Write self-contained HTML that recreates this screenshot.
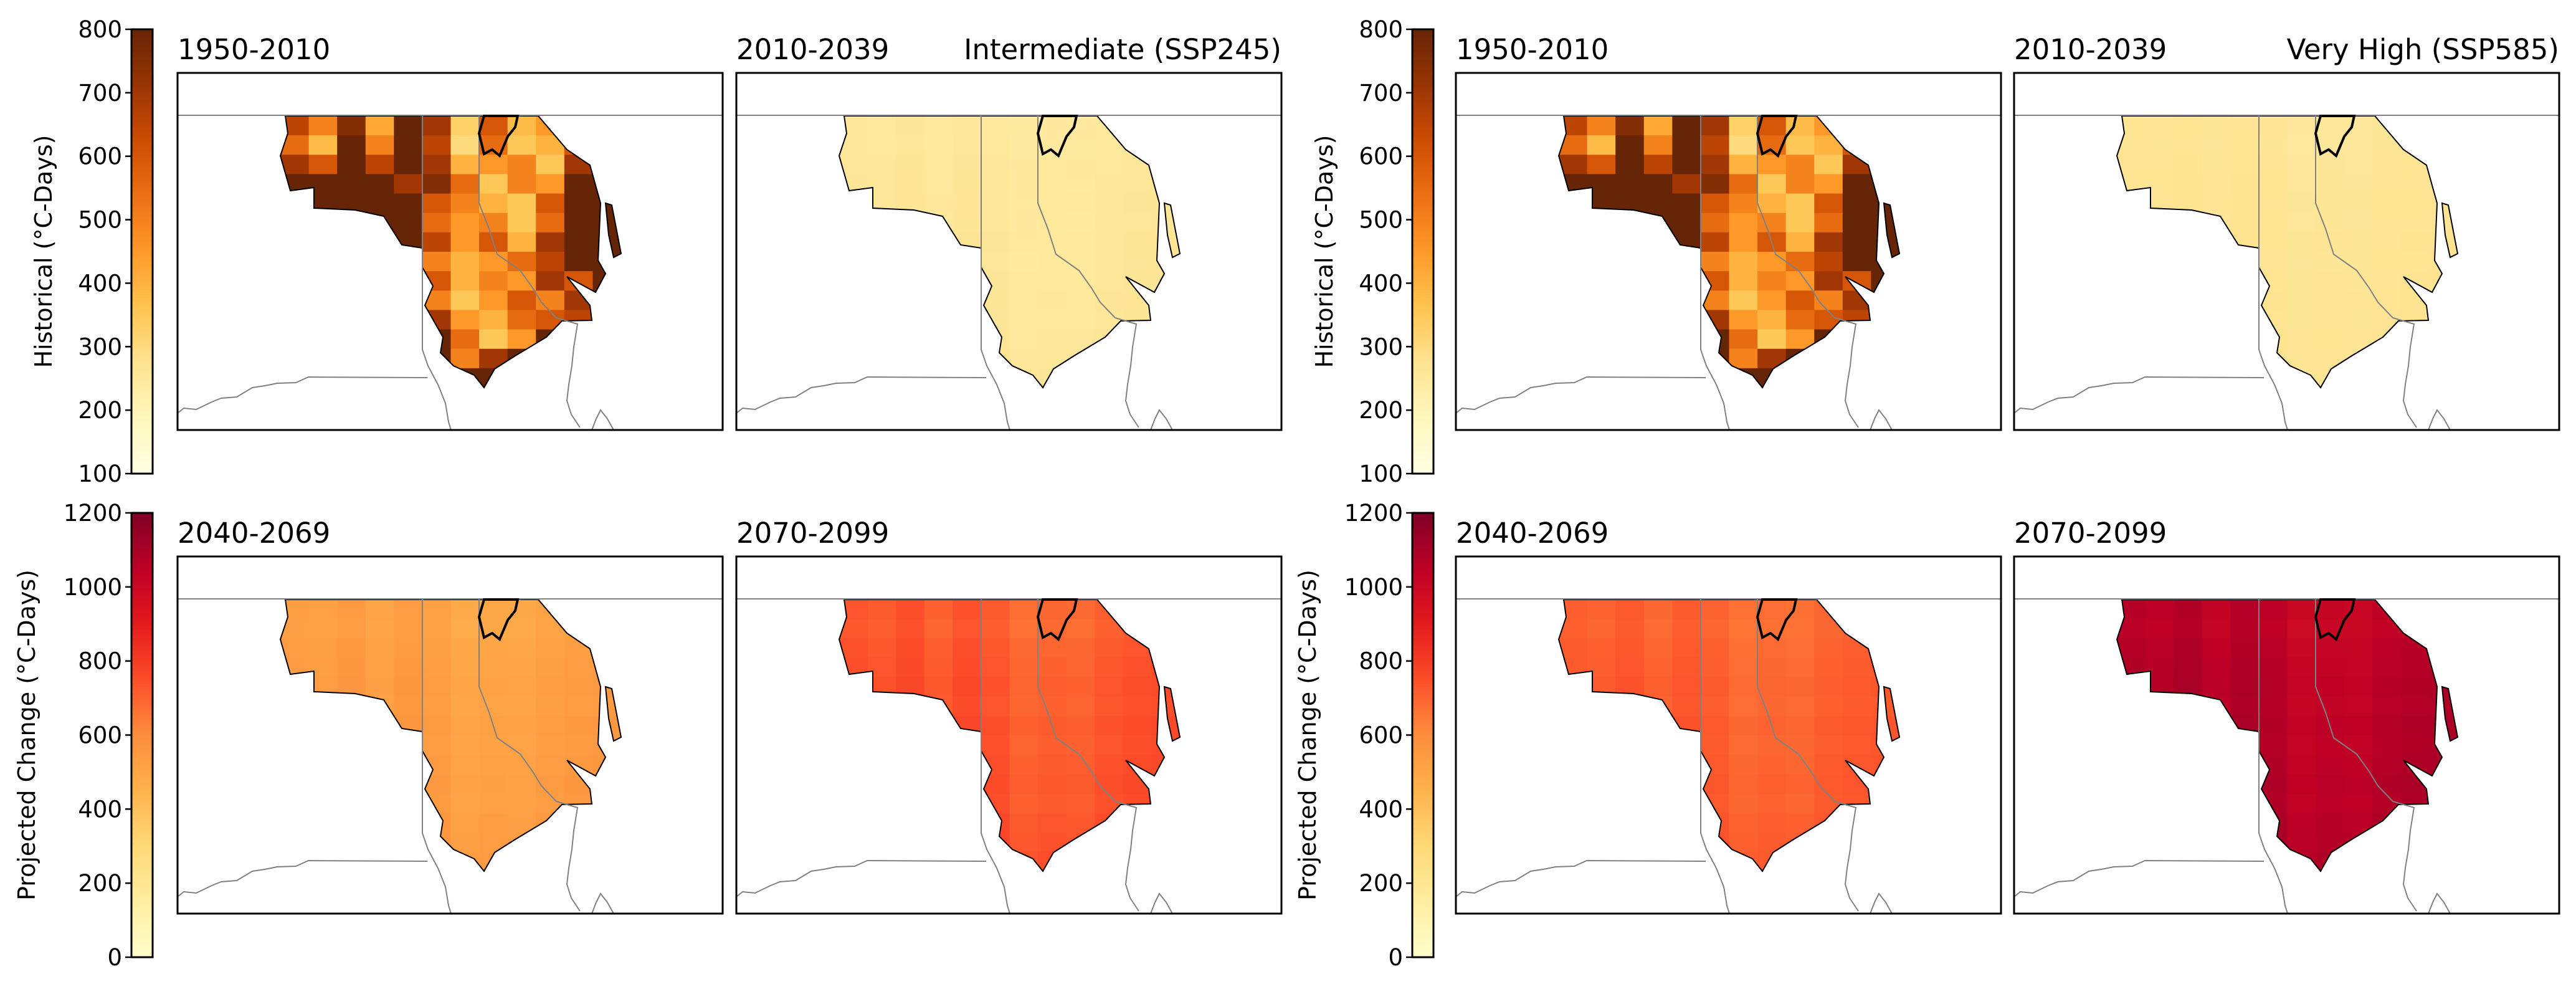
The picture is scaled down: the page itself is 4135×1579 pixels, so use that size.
<!DOCTYPE html>
<html><head><meta charset="utf-8"><style>
html,body{margin:0;padding:0;background:#fff;}
svg{display:block;font-family:"DejaVu Sans","Liberation Sans",sans-serif;}
</style></head><body>
<svg id="fig" width="4135" height="1579" viewBox="0 0 4135 1579" xmlns="http://www.w3.org/2000/svg">
<defs>
<clipPath id="mapclip"><path id="mapshape" d="M173,69 L579,69 L625,123 L662,148 L679,209 L675,301 L687,322 L671,352 L625,327 L662,373 L665,397 L617,398 L592,424 L542,454 L509,475 L492,505 L476,485 L443,470 L422,449 L426,424 L397,373 L410,342 L393,312 L393,281 L360,276 L331,230 L285,220 L219,217 L219,184 L181,189 L165,133 L177,97 Z M687,209 L697,212 L712,290 L700,296 L692,260 Z"/></clipPath>
<linearGradient id="gYlOrBr" x1="0" y1="1" x2="0" y2="0">
<stop offset="0" stop-color="#ffffe5"/><stop offset="0.125" stop-color="#fff7bc"/><stop offset="0.25" stop-color="#fee391"/><stop offset="0.375" stop-color="#fec44f"/><stop offset="0.5" stop-color="#fe9929"/><stop offset="0.625" stop-color="#ec7014"/><stop offset="0.75" stop-color="#cc4c02"/><stop offset="0.875" stop-color="#993404"/><stop offset="1" stop-color="#662506"/>
</linearGradient>
<linearGradient id="gYlOrRd" x1="0" y1="1" x2="0" y2="0">
<stop offset="0" stop-color="#ffffcc"/><stop offset="0.125" stop-color="#ffeda0"/><stop offset="0.25" stop-color="#fed976"/><stop offset="0.375" stop-color="#feb24c"/><stop offset="0.5" stop-color="#fd8d3c"/><stop offset="0.625" stop-color="#fc4e2a"/><stop offset="0.75" stop-color="#e31a1c"/><stop offset="0.875" stop-color="#bd0026"/><stop offset="1" stop-color="#800026"/>
</linearGradient>
</defs>
</svg>
<script>
// ---- data ----
const histTicks = [100,200,300,400,500,600,700,800];
const projTicks = [0,200,400,600,800,1000,1200];
// coarse historical growing degree day grid (north->south rows, west->east cols)
const histGrid = [
[650,500,750,420,800,700,330,600,380,450,700,800],
[550,380,800,500,800,650,300,550,350,400,600,800],
[700,600,800,650,800,700,400,450,500,350,700,800],
[800,800,800,800,700,750,550,350,500,450,800,800],
[800,800,800,800,800,600,500,400,350,600,800,800],
[800,800,800,800,800,550,450,500,350,550,800,800],
[800,800,800,800,800,650,450,600,400,700,800,800],
[800,800,800,800,800,500,400,450,550,650,800,800],
[800,800,800,800,750,600,400,500,450,700,600,800],
[800,800,800,800,800,500,350,450,600,500,700,800],
[800,800,800,800,800,700,450,400,550,600,650,800],
[800,800,800,800,800,800,550,350,450,800,800,800],
[800,800,800,800,800,800,500,700,800,800,800,800],
[800,800,800,800,800,800,800,800,800,800,800,800]];
const colAnom = [20,10,30,0,25,10,-20,-10,-15,5,15,20];
const rowAnom = [-10,-15,-5,0,5,0,10,5,10,15,10,20,25,30];
const panelTitles = ["2010-2039","2040-2069","2070-2099"];
const panelMeans245 = [255,520,720];
const panelMeans585 = [265,700,1050];
const animScale = [0.3,1.2,1.5];

// ---- layout ----
const NS="http://www.w3.org/2000/svg";
const fig=document.getElementById('fig');
const PW=875, PH=573;
const colX=[285,1182,2337,3233];
const rowY=[117,893];
const cbX=[211,2267], cbW=34;
const cbY=[[47,760],[823,1536]];
const mapX0=165,mapX1=712,mapY0=69,mapY1=505;
const YlOrBr=["#ffffe5","#fff7bc","#fee391","#fec44f","#fe9929","#ec7014","#cc4c02","#993404","#662506"];
const YlOrRd=["#ffffcc","#ffeda0","#fed976","#feb24c","#fd8d3c","#fc4e2a","#e31a1c","#bd0026","#800026"];
function hex(h){return [parseInt(h.substr(1,2),16),parseInt(h.substr(3,2),16),parseInt(h.substr(5,2),16)];}
function cmap(stops,t){t=Math.max(0,Math.min(1,t));const n=stops.length-1;const i=Math.min(n-1,Math.floor(t*n));const f=t*n-i;
 const a=hex(stops[i]),b=hex(stops[i+1]);return 'rgb('+a.map((v,k)=>Math.round(v+(b[k]-v)*f)).join(',')+')';}
function el(tag,attrs,parent){const e=document.createElementNS(NS,tag);for(const k in attrs)e.setAttribute(k,attrs[k]);(parent||fig).appendChild(e);return e;}

function colorbar(gi,ri,grad,ticks,label,labOff){
 const g=el('g',{});
 
 
 const x=cbX[gi],y0=cbY[ri][0],y1=cbY[ri][1];
 el('rect',{x:x,y:y0,width:cbW,height:y1-y0,fill:'url(#'+grad+')',stroke:'#000','stroke-width':3},g);
 const lo=ticks[0],hi=ticks[ticks.length-1];
 ticks.forEach(v=>{const y=y1-(v-lo)/(hi-lo)*(y1-y0);
  el('line',{x1:x-10,x2:x,y1:y,y2:y,stroke:'#000','stroke-width':2.5},g);
  const t=el('text',{x:x-15,y:y+13,'text-anchor':'end','font-size':37,fill:'#000'},g);t.textContent=v;
  
  });
 const cx=x-labOff,cy=(y0+y1)/2;
 const t=el('text',{x:cx,y:cy,'text-anchor':'middle','font-size':38,transform:'rotate(-90 '+cx+' '+cy+')'},g);
 t.textContent=label;
 
 
}

function panel(px,py,valFn,stops,lo,hi,title,rtitle,name){
 const g=el('g',{transform:'translate('+px+','+py+')'});
 
 
 const cells=el('g',{'clip-path':'url(#mapclip)'},g);
 const R=histGrid.length,C=histGrid[0].length;
 const cw=(mapX1-mapX0)/C,ch=(mapY1-mapY0)/R;
 for(let r=0;r<R;r++)for(let c=0;c<C;c++){
  const v=valFn(r,c);
  const rc=el('rect',{x:mapX0+c*cw,y:mapY0+r*ch,width:cw+0.8,height:ch+0.8,fill:cmap(stops,(v-lo)/(hi-lo))},cells);
  
  
 }
 el('use',{href:'#mapshape',fill:'none',stroke:'#000','stroke-width':2},g);
 const gray={fill:'none',stroke:'#808080','stroke-width':2};
 el('path',Object.assign({d:'M0,68 L875,68'},gray),g);
 el('path',Object.assign({d:'M393,69 L393,444 L402,470 L418,500 L430,530 L435,560 L439,573'},gray),g);
 el('path',Object.assign({d:'M0,546 L10,538 L30,540 L55,528 L70,522 L95,520 L120,505 L140,502 L160,498 L190,497 L210,488 L401,489'},gray),g);
 el('path',Object.assign({d:'M484,69 L484,209 L500,250 L513,291 L550,317 L570,345 L584,368 L608,393 L642,403 L636,440 L633,470 L628,500 L625,526 L632,548 L646,569'},gray),g);
 el('path',Object.assign({d:'M665,573 L672,555 L679,541 L690,555 L700,573'},gray),g);
 el('path',{d:'M492,69 L546,69 L542,87 L530,102 L517,133 L505,123 L492,130 L484,97 Z',fill:'none',stroke:'#000','stroke-width':4},g);
 el('rect',{x:0,y:0,width:PW,height:PH,fill:'none',stroke:'#000','stroke-width':3},g);
 const t=el('text',{x:0,y:-22,'font-size':45},g);t.textContent=title;
 
 
 if(rtitle){const t2=el('text',{x:PW,y:-22,'font-size':45,'text-anchor':'end'},g);t2.textContent=rtitle;
  
  }
}

const histFn=(r,c)=>histGrid[r][c];
[0,1].forEach(gi=>{
 const means=gi===0?panelMeans245:panelMeans585;
 const scen=gi===0?"Intermediate (SSP245)":"Very High (SSP585)";
 colorbar(gi,0,'gYlOrBr',histTicks,'Historical (°C-Days)',128);
 colorbar(gi,1,'gYlOrRd',projTicks,'Projected Change (°C-Days)',155);
 panel(colX[gi*2],rowY[0],histFn,YlOrBr,100,800,"1950-2010",null,'historical-map-'+gi);
 panel(colX[gi*2+1],rowY[0],(r,c)=>means[0]+colAnom[c]*animScale[0]+rowAnom[r]*animScale[0],YlOrBr,100,800,panelTitles[0],scen,'near-term-map-'+gi);
 panel(colX[gi*2],rowY[1],(r,c)=>means[1]+colAnom[c]*animScale[1]+rowAnom[r]*animScale[1],YlOrRd,0,1200,panelTitles[1],null,'mid-century-map-'+gi);
 panel(colX[gi*2+1],rowY[1],(r,c)=>means[2]+colAnom[c]*animScale[2]+rowAnom[r]*animScale[2],YlOrRd,0,1200,panelTitles[2],null,'end-century-map-'+gi);
});
</script>
</body></html>
